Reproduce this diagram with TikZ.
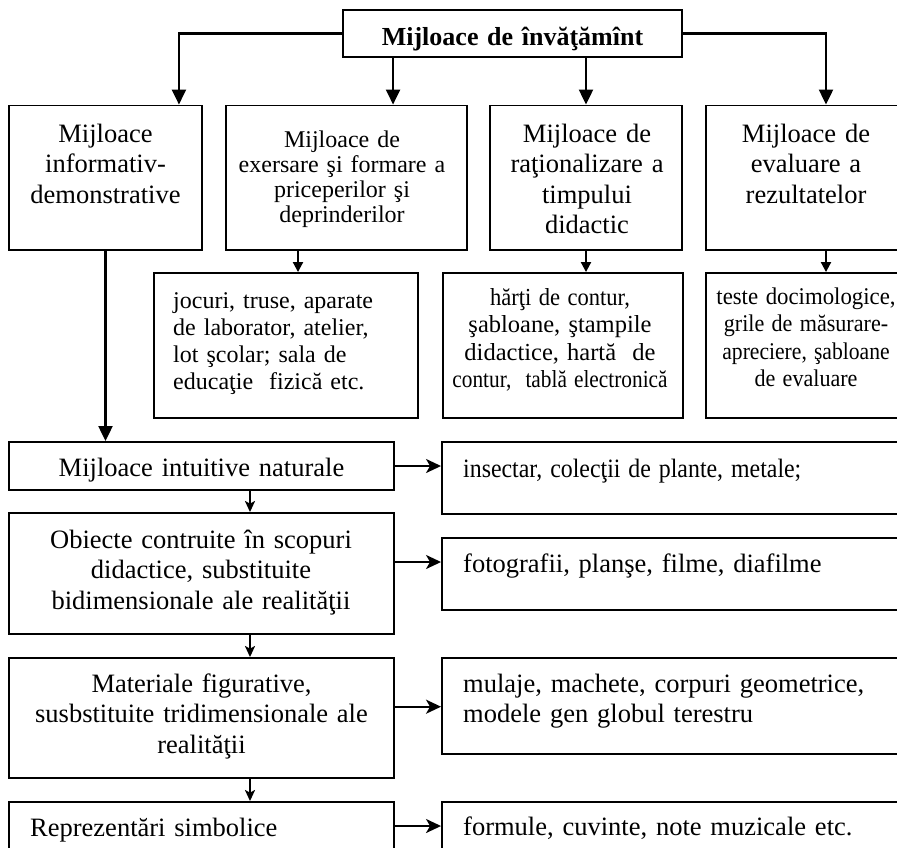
\documentclass[tikz,border=0pt]{standalone}
\usepackage{fontspec}
\usepackage{graphicx}
\setmainfont{Liberation Serif}
\usetikzlibrary{arrows.meta}

% horizontally condensed text (glyphs and spaces alike)
\newcommand\condensed[2]{\scalebox{#1}[1]{#2}}

\tikzset{
  box/.style={draw, line width=1.9pt, rectangle, inner sep=0pt},
  txt/.style={inner sep=0pt, anchor=base, align=center, text width=#1},
  txt/.default=330pt,
  ltxt/.style={inner sep=0pt, anchor=base west, align=left, text width=#1},
  ltxt/.default=420pt,
  bigarr/.style={line width=2.2pt, -{Triangle[length=15pt,width=14pt]}},
  midarr/.style={line width=2pt, -{Triangle[length=10pt,width=10pt]}},
  downarr/.style={line width=1.9pt, -{Stealth[length=11pt,width=10pt,inset=2.5pt]}},
  sidearr/.style={line width=2pt, -{Stealth[length=15pt,width=14pt,inset=4pt]}},
  big/.style={font=\fontsize{26.5}{30.5}\selectfont},
}

\begin{document}
\begin{tikzpicture}[x=1pt,y=-1pt]
\useasboundingbox (0,0) rectangle (897,847);

% frames
\node[box, minimum width=339pt, minimum height=47pt] (top) at (512.5,33.5) {};
\node[box, minimum width=193pt, minimum height=144.5pt] (b1) at (105.5,177.75) {};
\node[box, minimum width=241pt, minimum height=144.5pt] (b2) at (346.5,177.75) {};
\node[box, minimum width=192pt, minimum height=144.5pt] (b3) at (586,177.75) {};
\node[box, minimum width=240pt, minimum height=144.5pt] (b4) at (826,177.75) {};
\node[box, minimum width=264pt, minimum height=145pt] (b2b) at (286,345.5) {};
\node[box, minimum width=240pt, minimum height=145pt] (b3b) at (563,345.5) {};
\node[box, minimum width=240pt, minimum height=145pt] (b4b) at (826,345.5) {};
\node[box, minimum width=385pt, minimum height=48pt] (L1) at (201.5,466) {};
\node[box, minimum width=385pt, minimum height=121pt] (L2) at (201.5,573.5) {};
\node[box, minimum width=385pt, minimum height=120pt] (L3) at (201.5,718) {};
\node[box, minimum width=385pt, minimum height=68pt] (L4) at (201.5,836) {};
\node[box, minimum width=518pt, minimum height=72pt] (R1) at (701,478) {};
\node[box, minimum width=518pt, minimum height=72pt] (R2) at (701,574) {};
\node[box, minimum width=518pt, minimum height=96pt] (R3) at (701,706) {};
\node[box, minimum width=518pt, minimum height=68pt] (R4) at (701,836) {};

% texts
\node[txt, font=\fontsize{26}{30}\selectfont\bfseries] (topt) at (512.5,45) {Mijloace de învăţămînt};
\node[txt=190pt, big] (b1t) at (105.5,142) {Mijloace\\informativ-\\demonstrative};
\node[txt=210pt, font=\fontsize{24}{25}\selectfont] (b2t) at (342,147)
  {Mijloace de\\exersare şi formare a\\priceperilor şi\\deprinderilor\hspace*{64pt}};
\node[txt=190pt, big] (b3t) at (587,142) {Mijloace de\\raţionalizare a\\timpului\\didactic};
\node[txt=200pt, big] (b4t) at (806,142) {Mijloace de\\evaluare a\\rezultatelor};
\node[ltxt=240pt, font=\fontsize{24}{27.3}\selectfont] (b2bt) at (173,308)
  {jocuri, truse, aparate\\de laborator, atelier,\\lot şcolar; sala de\\educaţie\ \ fizică etc.};
\node[txt=236pt, font=\fontsize{24.5}{27.5}\selectfont] (b3bt) at (560,305)
  {\condensed{0.92}{hărţi de contur,}\hspace*{6pt}\\şabloane, ştampile\\didactice, hartă\ \ de\\\condensed{0.87}{contur,\ \ tablă electronică}};
\node[txt=200pt, font=\fontsize{24}{27.5}\selectfont] (b4bt) at (806,304)
  {\condensed{0.95}{teste docimologice,}\\\condensed{0.92}{grile de măsurare-}\\\condensed{0.9}{apreciere, şabloane}\\\condensed{0.92}{de evaluare}};
\node[txt, big] (L1t) at (201.5,476) {Mijloace intuitive naturale};
\node[txt=370pt, big] (L2t) at (201,548) {Obiecte contruite în scopuri\\didactice, substituite\\bidimensionale ale realităţii};
\node[txt=370pt, big] (L3t) at (201.5,692) {Materiale figurative,\\susbstituite tridimensionale ale\\realităţii};
\node[ltxt, big] (L4t) at (30,836) {Reprezentări simbolice};
\node[ltxt, big] (R1t) at (463,477) {\condensed{0.9}{insectar, colecţii de plante, metale;}};
\node[ltxt, big] (R2t) at (463,572) {fotografii, planşe, filme, diafilme};
\node[ltxt, font=\fontsize{26.5}{30}\selectfont] (R3t) at (463,692) {mulaje, machete, corpuri geometrice,\\modele gen globul terestru};
\node[ltxt, big] (R4t) at (463,835) {formule, cuvinte, note muzicale etc.};

% connectors from the title
\draw[bigarr] (top.west) -| ([xshift=-24pt]b1.north east);
\draw[bigarr] ([xshift=51pt]top.south west) -- ([xshift=51pt]top.south west |- b2.north);
\draw[bigarr] (top.south -| b3.north) -- (b3.north);
\draw[bigarr] (top.east) -| (b4.north);

% categories to examples
\draw[midarr] ([xshift=-48.5pt]b2.south) -- ([xshift=-48.5pt]b2.south |- b2b.north);
\draw[midarr] (b3.south) -- (b3.south |- b3b.north);
\draw[midarr] (b4.south) -- (b4b.north);

% intuitive column
\draw[bigarr] (b1.south) -- (b1.south |- L1.north);
\draw[downarr] ([xshift=48.5pt]L1.south) -- ([xshift=48.5pt]L1.south |- L2.north);
\draw[downarr] ([xshift=48.5pt]L2.south) -- ([xshift=48.5pt]L2.south |- L3.north);
\draw[downarr] ([xshift=48.5pt]L3.south) -- ([xshift=48.5pt]L3.south |- L4.north);

% column to examples
\draw[sidearr] (L1.east) -- (L1.east -| R1.west);
\draw[sidearr] ([yshift=11.5pt]L2.east) -- ([yshift=11.5pt]L2.east -| R2.west);
\draw[sidearr] ([yshift=11.3pt]L3.east) -- ([yshift=11.3pt]L3.east -| R3.west);
\draw[sidearr] ([yshift=10pt]L4.east) -- ([yshift=10pt]L4.east -| R4.west);
\end{tikzpicture}
\end{document}
